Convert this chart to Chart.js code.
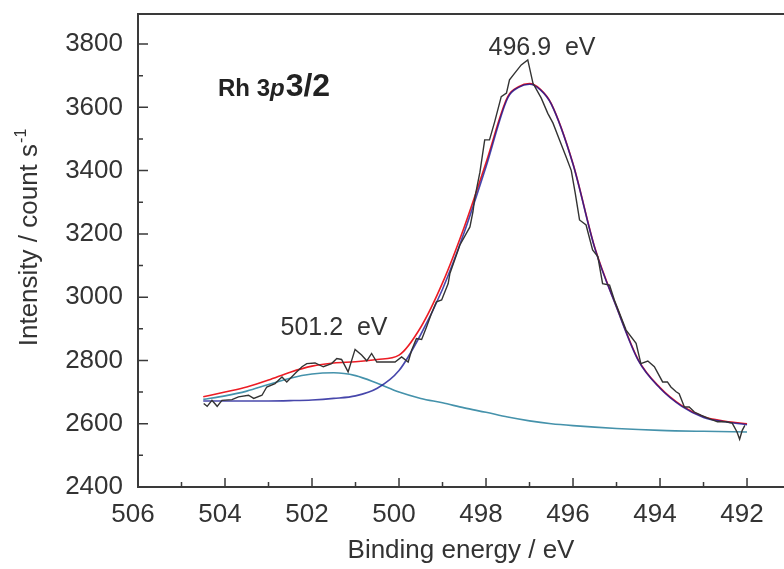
<!DOCTYPE html>
<html>
<head>
<meta charset="utf-8">
<script src="https://cdn.jsdelivr.net/npm/chart.js@4/dist/chart.umd.min.js"></script>
<style>
  html, body { margin: 0; padding: 0; background: #fff; }
  #wrap { width: 784px; height: 569px; }
</style>
</head>
<body>
<div id="wrap"><canvas id="c" width="784" height="569"></canvas></div>
<script>
// Datos (energía de enlace en eV, intensidad en cuentas/s)
const xTicks = [506, 504, 502, 500, 498, 496, 494, 492];
const yTicks = [2400, 2600, 2800, 3000, 3200, 3400, 3600, 3800];

// Espectro medido (línea negra)
const rawE = [504.49, 504.41, 504.30, 504.18, 504.07, 503.84, 503.69, 503.46, 503.34, 503.15,
  503.04, 502.85, 502.69, 502.58, 502.39, 502.23, 502.12, 501.93, 501.74, 501.55,
  501.43, 501.32, 501.17, 501.01, 500.86, 500.74, 500.63, 500.51, 500.32, 500.09,
  499.94, 499.79, 499.71, 499.60, 499.48, 499.37, 499.25, 499.14, 499.02, 498.87,
  498.83, 498.60, 498.37, 498.30, 498.26, 498.14, 498.03, 497.92, 497.80, 497.65,
  497.53, 497.46, 497.34, 497.19, 497.04, 496.92, 496.73, 496.58, 496.46, 496.31,
  496.16, 496.04, 495.95, 495.85, 495.70, 495.55, 495.43, 495.32, 495.16, 495.05,
  494.78, 494.55, 494.44, 494.28, 494.13, 493.94, 493.83, 493.75, 493.63, 493.56,
  493.44, 493.33, 493.21, 493.06, 492.87, 492.68, 492.49, 492.34, 492.23, 492.17,
  492.11, 492.05];
const rawI = [2664, 2655, 2674, 2655, 2674, 2676, 2685, 2690, 2680, 2690,
  2716, 2727, 2748, 2732, 2759, 2780, 2790, 2792, 2780, 2790,
  2806, 2803, 2764, 2835, 2817, 2799, 2822, 2795, 2795, 2795,
  2811, 2795, 2832, 2869, 2866, 2905, 2950, 2985, 2991, 3043,
  3075, 3165, 3222, 3270, 3312, 3395, 3497, 3497, 3555, 3634,
  3645, 3687, 3708, 3734, 3750, 3676, 3629, 3581, 3550, 3497,
  3444, 3400, 3330, 3244, 3228, 3149, 3128, 3043, 3038, 2991,
  2896, 2854, 2790, 2798, 2780, 2732, 2732, 2716, 2701, 2695,
  2653, 2653, 2637, 2627, 2616, 2606, 2606, 2602, 2574, 2551,
  2579, 2595];

// Componentes del ajuste
const fitE = [504.5, 504.0, 503.5, 503.0, 502.5, 502.0, 501.5, 501.0, 500.5, 500.0,
  499.5, 499.0, 498.5, 498.0, 497.5, 497.25, 497.0, 496.75, 496.5, 496.0,
  495.5, 495.0, 494.5, 494.0, 493.5, 493.0, 492.5, 492.0];
const envelopeI = [2685, 2700, 2716, 2738, 2763, 2782, 2792, 2796, 2803, 2817,
  2905, 3045, 3222, 3425, 3634, 3665, 3675, 3657, 3612, 3422,
  3157, 2970, 2802, 2714, 2657, 2622, 2608, 2600];
const mainPeakI = [2672, 2672, 2672, 2672, 2673, 2675, 2680, 2688, 2712, 2768,
  2882, 3025, 3205, 3412, 3630, 3663, 3673, 3655, 3610, 3420,
  3155, 2968, 2800, 2712, 2655, 2620, 2606, 2597];

const shoulderE = [504.5, 504.0, 503.5, 503.0, 502.5, 502.0, 501.5, 501.0, 500.5, 500.0,
  499.5, 499.0, 498.5, 498.0, 497.5, 497.0, 496.5, 496.0, 495.0, 494.0, 493.0, 492.0];
const shoulderI = [2677, 2688, 2703, 2724, 2744, 2757, 2761, 2752, 2728, 2700,
  2680, 2666, 2650, 2636, 2621, 2609, 2600, 2594, 2585, 2579, 2576, 2574];

const pares = (xs, ys) => xs.map((x, i) => ({ x: x, y: ys[i] }));

const INK = '#333333';
const FONT = '"Liberation Sans", Arial, sans-serif';
const SIZE = 26;

// Marco, marcas hacia dentro y textos con formato especial
const framePlugin = {
  id: 'frame',
  afterDraw(chart) {
    const { ctx, chartArea: a, scales: { x, y } } = chart;
    ctx.save();
    ctx.strokeStyle = '#3a3a3a';
    ctx.lineWidth = 2;
    ctx.beginPath();
    ctx.moveTo(a.right + 2, a.top);
    ctx.lineTo(a.left, a.top);
    ctx.lineTo(a.left, a.bottom);
    ctx.lineTo(a.right + 2, a.bottom);
    ctx.stroke();

    ctx.lineWidth = 1.5;
    ctx.beginPath();
    for (let v = 491; v <= 506; v++) {
      const px = x.getPixelForValue(v);
      if (px < a.left || px > a.right) continue;
      const len = v % 2 === 0 ? 9 : 5;
      ctx.moveTo(px, a.bottom);
      ctx.lineTo(px, a.bottom - len);
    }
    for (let v = 2400; v <= 3800; v += 100) {
      const py = y.getPixelForValue(v);
      const len = v % 200 === 0 ? 10 : 5;
      ctx.moveTo(a.left, py);
      ctx.lineTo(a.left + len, py);
    }
    ctx.stroke();

    // Título del eje Y con superíndice
    ctx.fillStyle = INK;
    ctx.translate(37, 238);
    ctx.rotate(-Math.PI / 2);
    ctx.font = SIZE + 'px ' + FONT;
    const base = 'Intensity / count s';
    const wBase = ctx.measureText(base).width;
    ctx.font = '16px ' + FONT;
    const wSup = ctx.measureText('-1').width;
    const sx = -(wBase + wSup) / 2;
    ctx.font = SIZE + 'px ' + FONT;
    ctx.textBaseline = 'alphabetic';
    ctx.fillText(base, sx, 0);
    ctx.font = '16px ' + FONT;
    ctx.fillText('-1', sx + wBase + 1, -11);
    ctx.restore();

    // Etiqueta "Rh 3p3/2"
    ctx.save();
    ctx.fillStyle = '#222';
    ctx.textBaseline = 'alphabetic';
    let tx = 218;
    const ty = 96;
    ctx.font = 'bold 24px ' + FONT;
    ctx.fillText('Rh 3', tx, ty);
    tx += ctx.measureText('Rh 3').width;
    ctx.font = 'italic bold 24px ' + FONT;
    ctx.fillText('p', tx, ty);
    tx += ctx.measureText('p').width + 1;
    ctx.font = 'bold 32px ' + FONT;
    ctx.fillText('3/2', tx, ty);

    // Posiciones de los picos
    ctx.fillStyle = INK;
    ctx.font = '25px ' + FONT;
    ctx.textAlign = 'center';
    ctx.fillText('496.9  eV', 542, 55);
    ctx.fillText('501.2  eV', 334, 335);
    ctx.restore();
  }
};

const lineaSuave = { pointRadius: 0, fill: false, tension: 0.4, cubicInterpolationMode: 'monotone' };

new Chart(document.getElementById('c'), {
  type: 'line',
  data: {
    datasets: [
      { label: 'Measured', data: pares(rawE, rawI), borderColor: '#333333', borderWidth: 1.4, pointRadius: 0, tension: 0, fill: false },
      Object.assign({ label: 'Main peak', data: pares(fitE, mainPeakI), borderColor: 'rgba(25,25,150,0.8)', borderWidth: 1.6 }, lineaSuave),
      Object.assign({ label: 'Envelope', data: pares(fitE, envelopeI), borderColor: '#ec1c24', borderWidth: 1.6 }, lineaSuave),
      Object.assign({ label: 'Shoulder', data: pares(shoulderE, shoulderI), borderColor: '#4592ab', borderWidth: 1.6 }, lineaSuave)
    ]
  },
  options: {
    responsive: false,
    animation: false,
    layout: { padding: { top: 14, right: 0, left: 0, bottom: 0 } },
    plugins: { legend: { display: false }, tooltip: { enabled: false } },
    scales: {
      x: {
        type: 'linear',
        reverse: true,
        min: 491.15,
        max: 506,
        grid: { display: false, drawTicks: false },
        border: { display: false },
        afterBuildTicks: (s) => { s.ticks = xTicks.map(v => ({ value: v })); },
        afterFit: (s) => { s.height = 82; s.paddingLeft = 0; s.paddingRight = 0; },
        ticks: { color: INK, font: { family: FONT, size: SIZE }, padding: 12, labelOffset: -5, maxRotation: 0, autoSkip: false, callback: (v) => String(v) },
        title: { display: true, text: 'Binding energy / eV', color: INK, font: { family: FONT, size: SIZE }, padding: { top: 0, bottom: 3 } }
      },
      y: {
        type: 'linear',
        min: 2400,
        max: 3895,
        grid: { display: false, drawTicks: false },
        border: { display: false },
        afterBuildTicks: (s) => { s.ticks = yTicks.map(v => ({ value: v })); },
        afterFit: (s) => { s.width = 138; s.paddingTop = 0; s.paddingBottom = 0; },
        ticks: { color: INK, font: { family: FONT, size: SIZE }, padding: 15, autoSkip: false, callback: (v) => String(v) }
      }
    }
  },
  plugins: [framePlugin]
});
</script>
</body>
</html>
